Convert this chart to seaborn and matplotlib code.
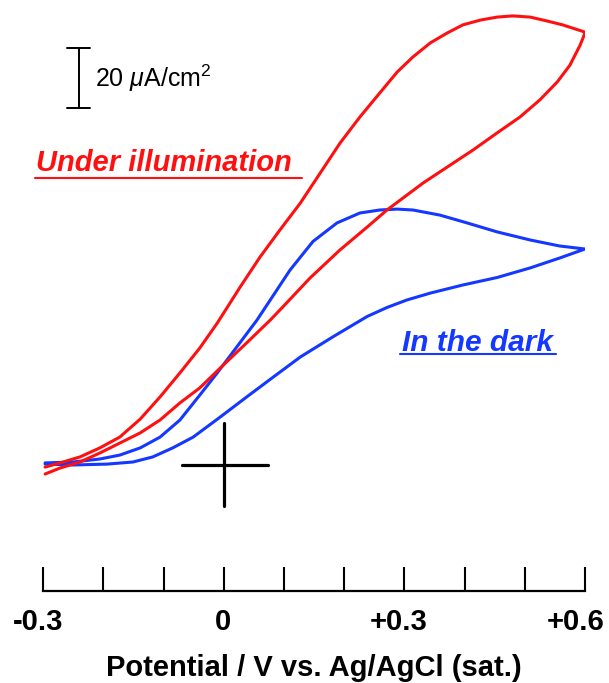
import numpy as np
import pandas as pd
import matplotlib
matplotlib.use("Agg")
import matplotlib.pyplot as plt
import matplotlib.transforms as mtransforms
import seaborn as sns

# ---- data (potential in V vs Ag/AgCl, current density in uA/cm2) ----
# Under illumination: forward (lower) branch then reverse (upper) branch
light_fwd_v = [-0.297, -0.272, -0.239, -0.206, -0.173, -0.139, -0.106, -0.073, -0.040, -0.001,
               0.043, 0.077, 0.098, 0.143, 0.193, 0.238, 0.271, 0.293, 0.331, 0.371,
               0.414, 0.454, 0.492, 0.525, 0.554, 0.575, 0.592, 0.600]
light_fwd_i = [-3.0, -1.0, 1.0, 4.0, 7.3, 10.7, 15.0, 20.7, 25.7, 33.3,
               41.7, 48.3, 52.7, 62.3, 71.7, 79.3, 85.0, 88.3, 94.0, 99.3,
               105.0, 110.7, 116.0, 121.7, 127.7, 133.3, 140.0, 144.0]
light_rev_v = [0.600, 0.563, 0.537, 0.509, 0.480, 0.454, 0.426, 0.397, 0.371, 0.343,
               0.314, 0.288, 0.259, 0.226, 0.193, 0.160, 0.127, 0.093, 0.060, 0.027,
               -0.011, -0.040, -0.073, -0.106, -0.139, -0.173, -0.206, -0.239, -0.272, -0.297]
light_rev_i = [144.3, 146.7, 148.0, 149.3, 149.7, 149.3, 148.3, 146.7, 144.0, 140.7,
               136.0, 131.0, 124.0, 116.0, 107.3, 97.3, 87.3, 78.3, 69.3, 59.3,
               47.3, 39.0, 30.7, 22.7, 15.3, 9.3, 5.7, 2.7, 0.7, -0.7]

# In the dark: forward (upper) branch then reverse (lower) branch
dark_fwd_v = [-0.297, -0.251, -0.206, -0.173, -0.139, -0.106, -0.073, -0.040, -0.011, 0.022,
              0.055, 0.082, 0.110, 0.148, 0.188, 0.226, 0.259, 0.288, 0.314, 0.359,
              0.404, 0.454, 0.509, 0.558, 0.600]
dark_fwd_i = [0.7, 1.0, 2.0, 3.3, 5.7, 9.3, 15.0, 23.3, 30.7, 39.5,
              48.3, 56.5, 65.0, 74.5, 80.7, 84.0, 85.0, 85.3, 85.0, 83.3,
              80.7, 77.7, 75.0, 73.0, 72.0]
dark_rev_v = [0.600, 0.558, 0.509, 0.454, 0.397, 0.343, 0.304, 0.271, 0.238, 0.181,
              0.127, 0.082, 0.038, -0.006, -0.051, -0.085, -0.118, -0.151, -0.194, -0.251, -0.297]
dark_rev_i = [72.0, 69.0, 65.7, 62.5, 60.0, 57.3, 55.0, 52.5, 49.5, 42.7,
              36.0, 29.3, 22.7, 16.0, 9.3, 5.7, 2.7, 1.0, 0.3, 0.0, 0.3]

tick_pos = [-0.3, 0.0, 0.3, 0.6]
tick_labels = ["-0.3", "0", "+0.3", "+0.6"]
minor_pos = [-0.2, -0.1, 0.1, 0.2, 0.4, 0.5]
xlabel = "Potential / V vs. Ag/AgCl (sat.)"
scale_label = r"20 $\mu$A/cm$^2$"
light_label = "Under illumination"
dark_label = "In the dark"

RED = "#ff1010"
BLUE = "#1438ff"

light = pd.DataFrame({"E": light_fwd_v + light_rev_v, "j": light_fwd_i + light_rev_i})
light["cond"] = "light"
dark = pd.DataFrame({"E": dark_fwd_v + dark_rev_v, "j": dark_fwd_i + dark_rev_i})
dark["cond"] = "dark"

sns.set_theme(style="white")
plt.rcParams["font.family"] = ["Liberation Sans", "DejaVu Sans"]
plt.rcParams["mathtext.fontset"] = "custom"
plt.rcParams["mathtext.rm"] = "Liberation Sans"
plt.rcParams["mathtext.it"] = "Liberation Sans:italic"
plt.rcParams["text.color"] = "black"
plt.rcParams["axes.labelcolor"] = "black"
plt.rcParams["xtick.color"] = "black"
plt.rcParams["lines.solid_joinstyle"] = "round"

W, H = 609, 683
fig = plt.figure(figsize=(W / 100, H / 100), dpi=100)
x0, x1 = 43.3, 585.0
ybot = 591.0
ax = fig.add_axes([x0 / W, (H - ybot) / H, (x1 - x0) / W, ybot / H])

sns.lineplot(data=dark, x="E", y="j", sort=False, estimator=None, color=BLUE,
             linewidth=2.2, ax=ax, legend=False)
sns.lineplot(data=light, x="E", y="j", sort=False, estimator=None, color=RED,
             linewidth=2.2, ax=ax, legend=False)

ax.set_xlim(-0.3, 0.6)
# zero current at 465 px from top, 3 px per uA/cm2
ax.set_ylim((465 - ybot) / 3, 465 / 3)

for s in ["top", "left", "right"]:
    ax.spines[s].set_visible(False)
ax.spines["bottom"].set_linewidth(1.6)
ax.spines["bottom"].set_color("black")
ax.set_yticks([])
ax.set_xticks(tick_pos)
ax.set_xticklabels(tick_labels, fontsize=21, fontweight="bold")
ax.set_xticks(minor_pos, minor=True)
ax.tick_params(axis="x", which="both", direction="in", length=17, width=1.5,
               color="black", bottom=True)
ax.tick_params(axis="x", which="major", pad=12)
for lab, dx in zip(ax.get_xticklabels(), [-5, -1, -6, -9]):
    lab.set_transform(lab.get_transform() +
                      mtransforms.ScaledTranslation(dx / 100, 0, fig.dpi_scale_trans))
ax.set_xlabel(xlabel, fontsize=21, fontweight="bold", labelpad=13)
ax.set_ylabel("")

# cross marking origin
ax.plot([-0.07, 0.073], [0, 0], color="black", lw=2.3)
ax.plot([0.0, 0.0], [-13.7, 14.0], color="black", lw=2.3)

# scale bar 20 uA/cm2
ax.plot([-0.241, -0.241], [119, 139], color="black", lw=1.4, clip_on=False)
ax.plot([-0.261, -0.222], [139, 139], color="black", lw=1.4, clip_on=False)
ax.plot([-0.261, -0.222], [119, 119], color="black", lw=1.4, clip_on=False)
ax.text(-0.214, 129, scale_label, fontsize=18, va="center", ha="left")

# labels
ax.text(-0.099, 100.7, light_label, color=RED, fontsize=21, fontweight="bold",
        fontstyle="italic", ha="center", va="center")
ax.plot([-0.314, 0.130], [95.7, 95.7], color=RED, lw=1.5, clip_on=False)
ax.text(0.421, 40.7, dark_label, color=BLUE, fontsize=21.5, fontweight="bold",
        fontstyle="italic", ha="center", va="center")
ax.plot([0.293, 0.551], [37, 37], color=BLUE, lw=1.5, clip_on=False)

fig.savefig("out.png", dpi=100, facecolor="white")
